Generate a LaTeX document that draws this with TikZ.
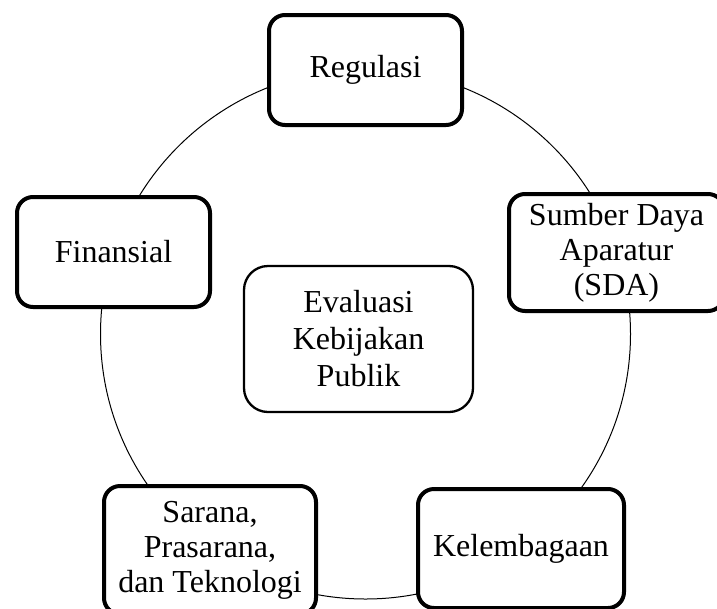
\documentclass[tikz,border=0pt]{standalone}
\usepackage{fontspec}
\setmainfont{Liberation Serif}
\tikzset{
  factor/.style={draw=black, fill=white, line width=4pt, rounded corners=16pt,
    align=center, inner sep=0pt, font=\fontsize{32}{35}\selectfont},
  core/.style={draw=black, fill=white, line width=2.3pt, rounded corners=24pt,
    align=center, inner sep=0pt, font=\fontsize{32}{37}\selectfont},
  ring/.style={draw=black, line width=1pt}
}
\begin{document}
\begin{tikzpicture}[x=1pt,y=-1pt]
  \clip (0,0) rectangle (717,608);
  \fill[white] (0,0) rectangle (717,608);
  % ring linking the factors
  \coordinate (hub) at (365.5,334);
  \draw[ring] (hub) circle[radius=265pt];
  % central box
  \node[core, minimum width=229pt, minimum height=146pt] (eval) at (358.5,339)
    {Evaluasi\\Kebijakan\\Publik};
  % factors around the ring
  \node[factor, minimum width=193pt, minimum height=110pt] (reg) at (365.5,70) {Regulasi};
  \node[factor, minimum width=215pt, minimum height=117pt] (sda) at (616.5,252.5)
    {Sumber Daya\\Aparatur\\(SDA)};
  \node[factor, minimum width=206pt, minimum height=119pt] (lem) at (521,548.5) {Kelembagaan};
  \node[factor, minimum width=212pt, minimum height=128pt] (sar) at (210,550)
    {Sarana,\\Prasarana,\\dan Teknologi};
  \node[factor, minimum width=193pt, minimum height=110pt] (fin) at (113.5,252) {Finansial};
\end{tikzpicture}
\end{document}
